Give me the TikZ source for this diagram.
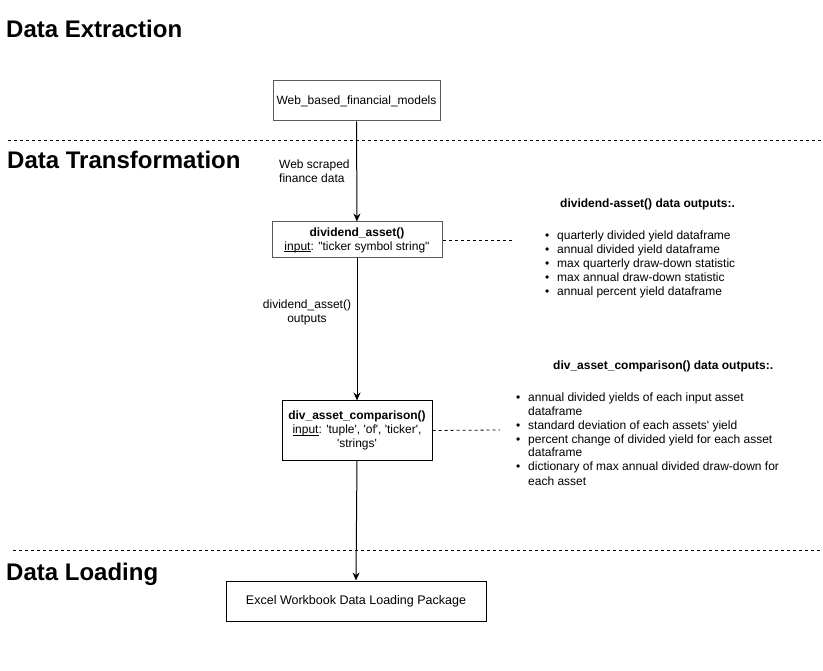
\documentclass[tikz,border=0pt]{standalone}
\usepackage{fontspec}
\newfontfamily\arial{Liberation Sans}
\usetikzlibrary{arrows.meta}
\definecolor{boxgray}{HTML}{5A5A5A}
\newcommand\myul[1]{\setbox0\hbox{#1}\rlap{\rule[-1.8pt]{\wd0}{0.7pt}}\box0}
\begin{document}
\begin{tikzpicture}[x=1pt,y=-1pt,
  txt/.style={font=\arial\fontsize{12}{14}\selectfont, inner sep=0pt},
  head/.style={font=\arial\bfseries\fontsize{24}{28}\selectfont, anchor=base west, inner sep=0pt},
  subhead/.style={font=\arial\bfseries\fontsize{12}{14}\selectfont, anchor=base west, inner sep=0pt},
  box/.style={draw, line width=1pt, align=center, inner sep=0pt, font=\arial\fontsize{12}{14}\selectfont},
  sepline/.style={dash pattern=on 3pt off 3pt, line width=0.8pt},
  arr/.style={-{Stealth[length=8pt,width=7pt]}, line width=1pt},
  link/.style={dash pattern=on 3pt off 3pt, line width=0.8pt},
]
\useasboundingbox[fill=white] (0,0) rectangle (823,671);

% section headings
\node[head] (hExt) at (6,38) {Data Extraction};
\node[head] (hTra) at (7,169) {Data Transformation};
\node[head] (hLoa) at (6,580) {Data Loading};

% separators
\draw[sepline] (8,140) -- (823,140);
\draw[sepline] (13,550) -- (823,550);

% boxes
\node[box, draw=boxgray, minimum width=167pt, minimum height=40pt] (web) at (356.5,101) {Web\_based\_financial\_models};
\node[box, draw=boxgray, minimum width=170pt, minimum height=36pt] (div1) at (357,240)
  {\textbf{dividend\_asset()}\\\myul{input}: "ticker symbol string"};
\node[box, minimum width=150pt, minimum height=59pt] (div2) at (357,430.5)
  {\textbf{div\_asset\_comparison()}\\\myul{input}: 'tuple', 'of', 'ticker',\\'strings'};
\node[box, minimum width=260pt, minimum height=40pt, font=\arial\fontsize{12.5}{14}\selectfont] (excel) at (356,601)
  {Excel Workbook Data Loading Package};

% arrows
\draw[arr] (web) -- (div1);
\draw[arr] (div1) -- (div2);
\draw[arr] (div2.south) -- (excel.north);

% arrow labels
\node[txt, align=left, anchor=west] (lab1) at (279,171) {Web scraped\\finance data};
\node[txt, align=center] (lab2) at (307,312) {dividend\_asset()\\outputs};

% dashed links to output notes
\coordinate (end1) at (512,240);
\coordinate (end2) at (500,430);
\draw[link] (div1.east) -- (end1);
\draw[link] (div2.east) -- (end2);

% output notes
\node[subhead] (n1h) at (560,208) {dividend-asset() data outputs:.};
\node[txt, anchor=north west] (n1) at (545,230) {%
\begin{tabular}{@{}p{12pt}@{}l@{}}
\textbullet & quarterly divided yield dataframe\\
\textbullet & annual divided yield dataframe\\
\textbullet & max quarterly draw-down statistic\\
\textbullet & max annual draw-down statistic\\
\textbullet & annual percent yield dataframe
\end{tabular}};

\node[subhead] (n2h) at (553,370) {div\_asset\_comparison() data outputs:.};
\node[txt, anchor=north west] (n2) at (516,391) {%
\begin{tabular}{@{}p{12pt}@{}l@{}}
\textbullet & annual divided yields of each input asset\\
 & dataframe\\
\textbullet & standard deviation of each assets' yield\\
\textbullet & percent change of divided yield for each asset\\
 & dataframe\\
\textbullet & dictionary of max annual divided draw-down for\\
 & each asset
\end{tabular}};
\end{tikzpicture}
\end{document}
